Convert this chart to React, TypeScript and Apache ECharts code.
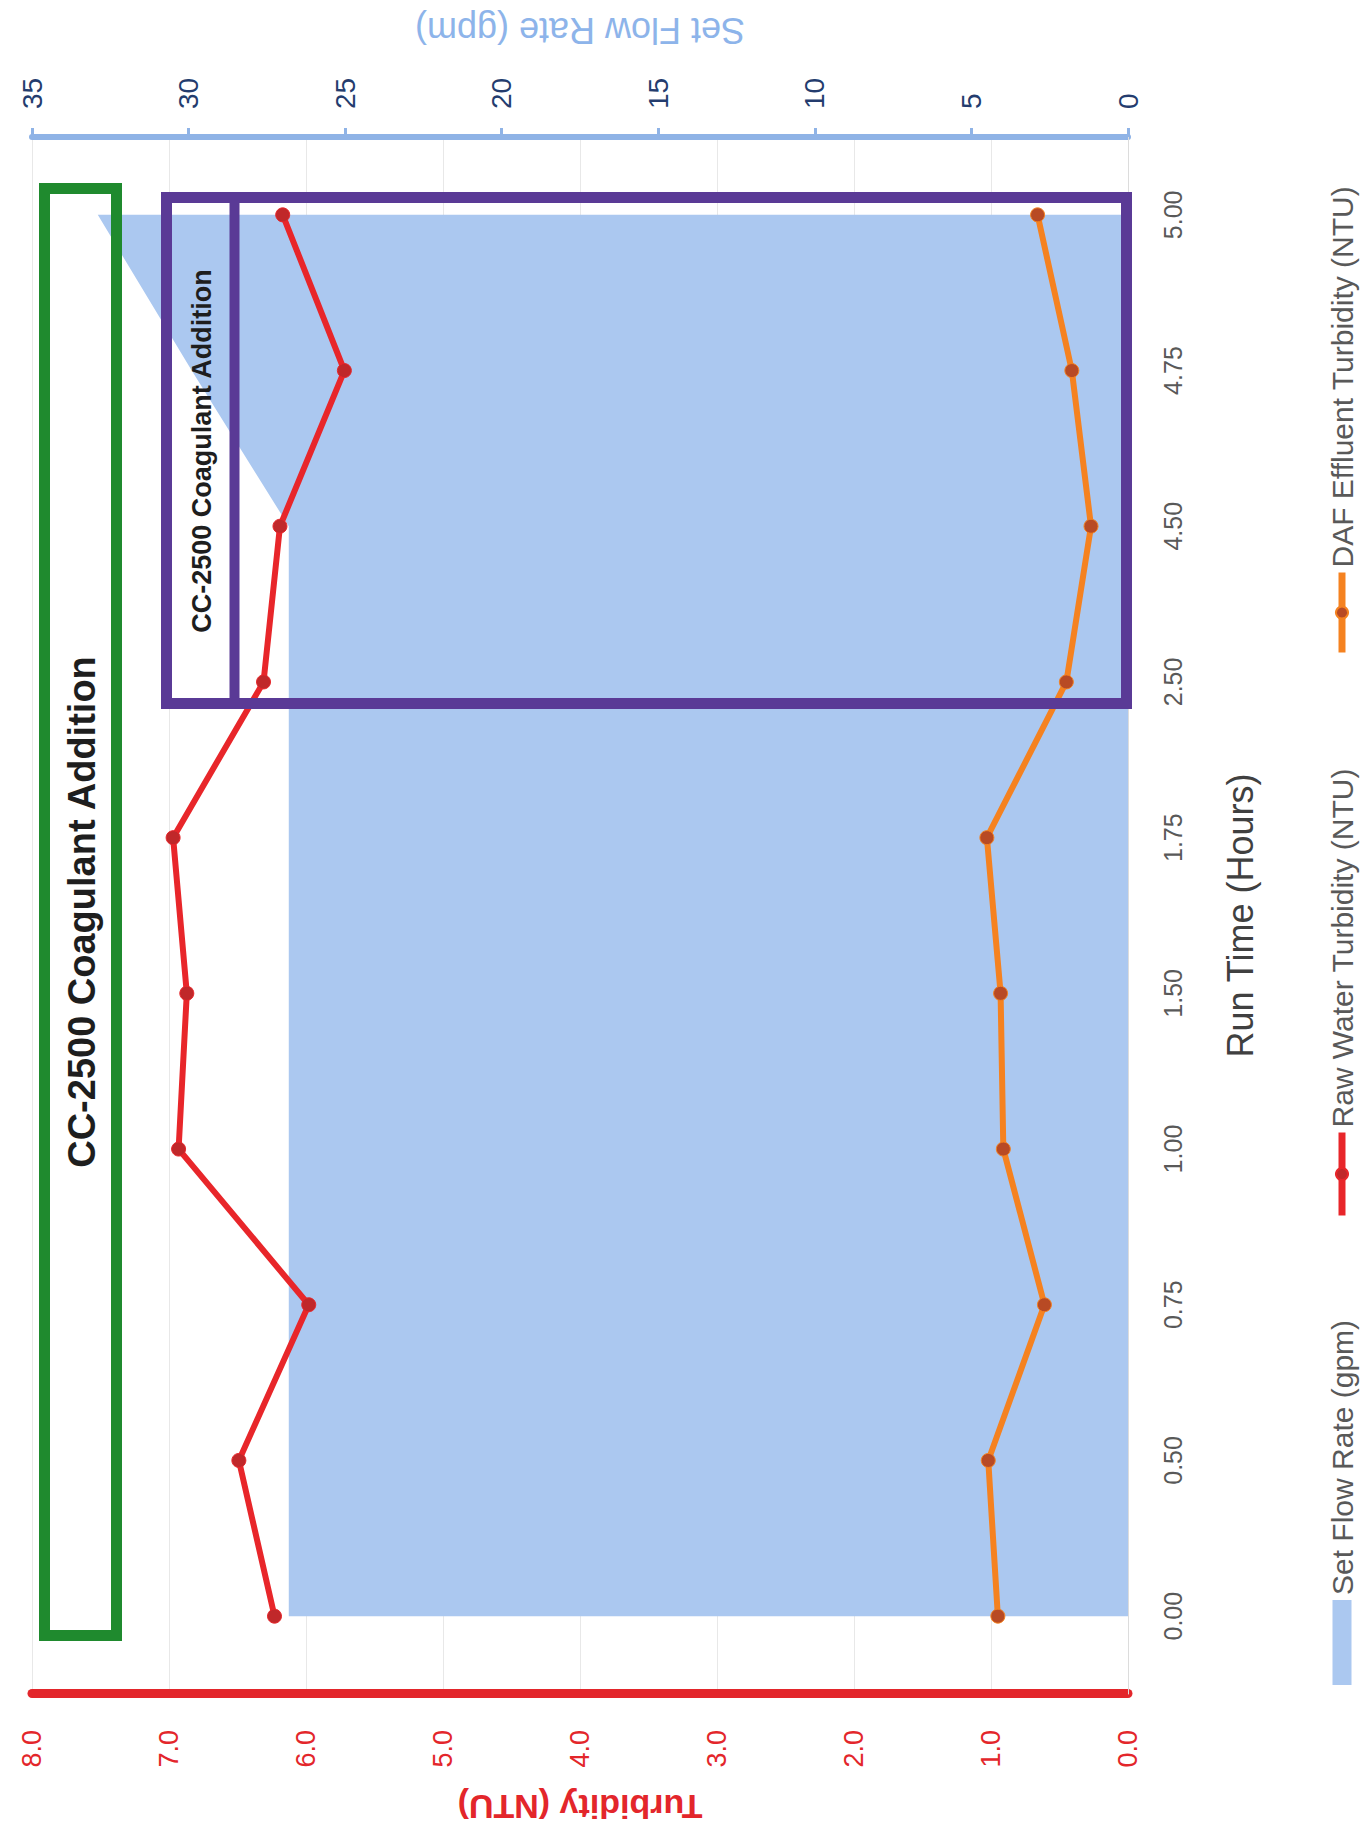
import React, { useEffect, useRef } from 'react';
import * as echarts from 'echarts';

// Run time categories (hours)
const runTimeHours = ['0.00', '0.50', '0.75', '1.00', '1.50', '1.75', '2.50', '4.50', '4.75', '5.00'];
// Set flow rate (gpm) - area on secondary axis
const setFlowRateGpm = [26.8, 26.8, 26.8, 26.8, 26.8, 26.8, 26.8, 26.8, 29.9, 32.9];
// Raw water turbidity (NTU)
const rawWaterTurbidityNtu = [6.23, 6.49, 5.98, 6.93, 6.87, 6.97, 6.31, 6.19, 5.72, 6.17];
// DAF effluent turbidity (NTU)
const dafEffluentTurbidityNtu = [0.95, 1.02, 0.61, 0.91, 0.93, 1.03, 0.45, 0.27, 0.41, 0.66];

const seriesNames = ['Set Flow Rate (gpm)', 'Raw Water Turbidity (NTU)', 'DAF Effluent Turbidity (NTU)'];
const annotationText = 'CC-2500 Coagulant Addition';

const W = 1837;
const H = 1363;
const FONT = "'Liberation Sans', Arial, sans-serif";

export default function App() {
  const ref = useRef<HTMLDivElement>(null);

  useEffect(() => {
    const chart = echarts.init(ref.current as HTMLDivElement, null, { renderer: 'svg', width: W, height: H });
    const legendText = { fontFamily: FONT, fontSize: 30, color: '#595959' };
    chart.setOption({
      animation: false,
      backgroundColor: '#ffffff',
      grid: { left: 143, right: 137, top: 32, bottom: 235, containLabel: false },
      xAxis: {
        type: 'category',
        data: runTimeHours,
        boundaryGap: true,
        name: 'Run Time (Hours)',
        nameLocation: 'middle',
        nameGap: 94,
        nameTextStyle: { fontFamily: FONT, fontSize: 36, color: '#404040' },
        axisLine: { show: true, lineStyle: { color: '#dcdcdc', width: 1 } },
        axisTick: { show: false },
        axisLabel: { interval: 0, margin: 32, fontFamily: FONT, fontSize: 25, color: '#595959' },
        splitLine: { show: false },
      },
      yAxis: [
        {
          type: 'value',
          min: 0,
          max: 8,
          interval: 1,
          position: 'left',
          name: 'Turbidity (NTU)',
          nameLocation: 'middle',
          nameRotate: 90,
          nameGap: 96,
          nameTextStyle: { fontFamily: FONT, fontSize: 34, fontWeight: 'bold', color: '#e3262b' },
          axisLine: { show: true, lineStyle: { color: '#e3262b', width: 9 } },
          axisTick: { show: false },
          axisLabel: {
            formatter: (v: number) => v.toFixed(1),
            margin: 36,
            fontFamily: FONT,
            fontSize: 27,
            color: '#e3262b',
          },
          splitLine: { show: true, lineStyle: { color: '#e8e8e8', width: 1 } },
        },
        {
          type: 'value',
          min: 0,
          max: 35,
          interval: 5,
          position: 'right',
          name: 'Set Flow Rate (gpm)',
          nameLocation: 'middle',
          nameRotate: 90,
          nameGap: 89,
          nameTextStyle: { fontFamily: FONT, fontSize: 36, color: '#8db4ea' },
          axisLine: { show: true, lineStyle: { color: '#8fb3e6', width: 6 } },
          axisTick: { show: true, length: 9, lineStyle: { color: '#8fb3e6', width: 3 } },
          axisLabel: { margin: 28, fontFamily: FONT, fontSize: 28, color: '#243c6e' },
          splitLine: { show: false },
        },
      ],
      legend: [
        {
          data: [{ name: seriesNames[0], icon: 'rect' }],
          left: 152,
          top: 1327,
          padding: 0,
          itemWidth: 85,
          itemHeight: 19,
          textStyle: legendText,
        },
        {
          data: [seriesNames[1]],
          left: 618,
          top: 1327,
          padding: 0,
          itemWidth: 83,
          itemHeight: 15,
          lineStyle: { width: 7 },
          textStyle: legendText,
        },
        {
          data: [seriesNames[2]],
          left: 1181,
          top: 1327,
          padding: 0,
          itemWidth: 80,
          itemHeight: 15,
          lineStyle: { width: 7 },
          textStyle: legendText,
        },
      ],
      series: [
        {
          name: seriesNames[0],
          type: 'line',
          yAxisIndex: 1,
          data: setFlowRateGpm,
          symbol: 'none',
          color: '#abc8f0',
          lineStyle: { width: 0, color: '#abc8f0' },
          areaStyle: { color: '#abc8f0', opacity: 1 },
          z: 1,
        },
        {
          name: seriesNames[1],
          type: 'line',
          yAxisIndex: 0,
          data: rawWaterTurbidityNtu,
          symbol: 'circle',
          symbolSize: 14,
          color: '#e8262a',
          lineStyle: { width: 6, color: '#e8262a' },
          itemStyle: { color: '#c0282a', borderColor: '#e8262a', borderWidth: 1 },
          z: 3,
        },
        {
          name: seriesNames[2],
          type: 'line',
          yAxisIndex: 0,
          data: dafEffluentTurbidityNtu,
          symbol: 'circle',
          symbolSize: 14,
          color: '#f58220',
          lineStyle: { width: 6, color: '#f58220' },
          itemStyle: { color: '#b84a24', borderColor: '#f58220', borderWidth: 1 },
          z: 4,
        },
      ],
      graphic: [
        {
          type: 'rect',
          z: 100,
          shape: { x: 201.5, y: 44.5, width: 1447, height: 72 },
          style: { fill: 'none', stroke: '#1f8a2e', lineWidth: 11 },
        },
        {
          type: 'text',
          z: 101,
          x: 925,
          y: 82,
          style: {
            text: annotationText,
            fontFamily: FONT,
            fontSize: 38,
            fontWeight: 'bold',
            fill: '#1e1e1e',
            align: 'center',
            verticalAlign: 'middle',
          },
        },
        {
          type: 'rect',
          z: 100,
          shape: { x: 1133.5, y: 166.5, width: 506, height: 960 },
          style: { fill: 'none', stroke: '#5a3a96', lineWidth: 11 },
        },
        {
          type: 'line',
          z: 100,
          shape: { x1: 1128, y1: 234.5, x2: 1645, y2: 234.5 },
          style: { stroke: '#5a3a96', lineWidth: 10 },
        },
        {
          type: 'text',
          z: 101,
          x: 1386,
          y: 202,
          style: {
            text: annotationText,
            fontFamily: FONT,
            fontSize: 27,
            fontWeight: 'bold',
            fill: '#1e1e1e',
            align: 'center',
            verticalAlign: 'middle',
          },
        },
      ],
    });
    return () => chart.dispose();
  }, []);

  return (
    <div
      style={{
        position: 'absolute',
        left: 0,
        top: 0,
        width: H,
        height: W,
        overflow: 'hidden',
        background: '#ffffff',
      }}
    >
      <div
        ref={ref}
        style={{
          position: 'absolute',
          left: 0,
          top: 0,
          width: W,
          height: H,
          transformOrigin: '0 0',
          transform: `translateY(${W}px) rotate(-90deg)`,
        }}
      />
    </div>
  );
}
